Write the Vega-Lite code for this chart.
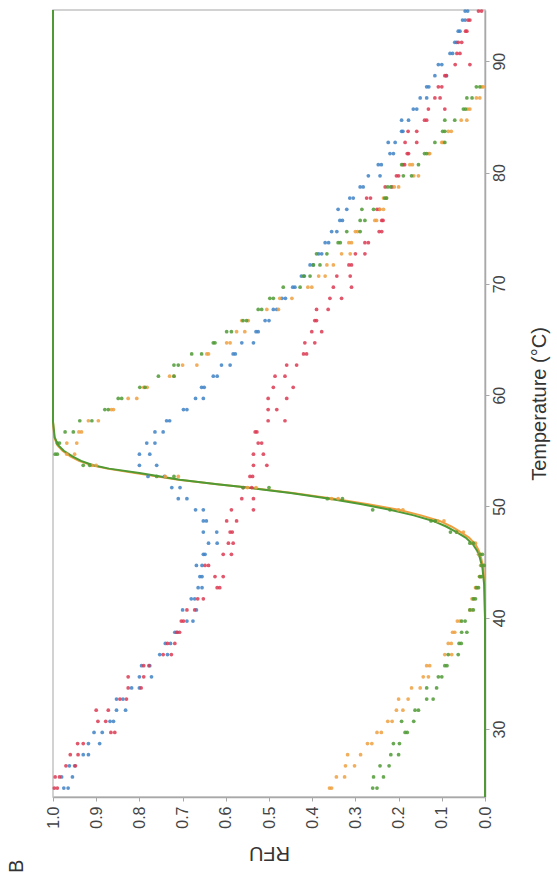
{
  "$schema": "https://vega.github.io/schema/vega-lite/v6.json",
  "width": 432,
  "height": 787,
  "autosize": {"type": "none"},
  "padding": {"left": 53, "top": 10, "right": 72, "bottom": 80},
  "background": "white",
  "title": {"text": "B", "orient": "bottom", "anchor": "start", "angle": 270, "align": "center", "baseline": "middle", "fontSize": 20, "fontWeight": "normal", "font": "Liberation Sans", "color": "#333333", "frame": "group", "dx": 0, "dy": -36},
  "config": {
    "view": {"stroke": "#c4c4c4", "strokeWidth": 1.5},
    "axis": {"labelFont": "Liberation Sans", "titleFont": "Liberation Sans", "labelColor": "#444444", "titleColor": "#333333", "domainColor": "#a8a8a8", "domainWidth": 1.5, "tickColor": "#a8a8a8", "grid": false, "titleFontWeight": "normal"}
  },
  "datasets": {
    "pts": [
      {"t":24.7,"s":"b","v":0.975},{"t":24.7,"s":"b","v":0.965},{"t":24.7,"s":"r","v":0.997},{"t":24.7,"s":"r","v":0.99},{"t":24.7,"s":"o","v":0.36},{"t":24.7,"s":"o","v":0.355},{"t":24.7,"s":"g","v":0.26},{"t":24.7,"s":"g","v":0.25},
      {"t":25.7,"s":"b","v":0.98},{"t":25.7,"s":"b","v":0.955},{"t":25.7,"s":"r","v":0.995},{"t":25.7,"s":"r","v":0.985},{"t":25.7,"s":"o","v":0.344},{"t":25.7,"s":"o","v":0.325},{"t":25.7,"s":"g","v":0.258},{"t":25.7,"s":"g","v":0.235},
      {"t":26.7,"s":"b","v":0.962},{"t":26.7,"s":"b","v":0.95},{"t":26.7,"s":"r","v":0.97},{"t":26.7,"s":"r","v":0.948},{"t":26.7,"s":"o","v":0.323},{"t":26.7,"s":"o","v":0.302},{"t":26.7,"s":"g","v":0.243},{"t":26.7,"s":"g","v":0.222},
      {"t":27.7,"s":"b","v":0.918},{"t":27.7,"s":"b","v":0.93},{"t":27.7,"s":"r","v":0.96},{"t":27.7,"s":"r","v":0.942},{"t":27.7,"s":"o","v":0.318},{"t":27.7,"s":"o","v":0.288},{"t":27.7,"s":"g","v":0.218},{"t":27.7,"s":"g","v":0.2},
      {"t":28.7,"s":"b","v":0.918},{"t":28.7,"s":"b","v":0.892},{"t":28.7,"s":"r","v":0.943},{"t":28.7,"s":"r","v":0.93},{"t":28.7,"s":"o","v":0.272},{"t":28.7,"s":"o","v":0.262},{"t":28.7,"s":"g","v":0.212},{"t":28.7,"s":"g","v":0.198},
      {"t":29.7,"s":"b","v":0.905},{"t":29.7,"s":"b","v":0.886},{"t":29.7,"s":"r","v":0.866},{"t":29.7,"s":"r","v":0.857},{"t":29.7,"s":"o","v":0.25},{"t":29.7,"s":"o","v":0.24},{"t":29.7,"s":"g","v":0.185},{"t":29.7,"s":"g","v":0.18},
      {"t":30.7,"s":"b","v":0.868},{"t":30.7,"s":"b","v":0.86},{"t":30.7,"s":"r","v":0.896},{"t":30.7,"s":"r","v":0.878},{"t":30.7,"s":"o","v":0.225},{"t":30.7,"s":"o","v":0.215},{"t":30.7,"s":"g","v":0.193},{"t":30.7,"s":"g","v":0.165},
      {"t":31.7,"s":"b","v":0.853},{"t":31.7,"s":"b","v":0.832},{"t":31.7,"s":"r","v":0.9},{"t":31.7,"s":"r","v":0.872},{"t":31.7,"s":"o","v":0.205},{"t":31.7,"s":"o","v":0.19},{"t":31.7,"s":"g","v":0.162},{"t":31.7,"s":"g","v":0.154},
      {"t":32.7,"s":"b","v":0.853},{"t":32.7,"s":"b","v":0.838},{"t":32.7,"s":"r","v":0.845},{"t":32.7,"s":"r","v":0.83},{"t":32.7,"s":"o","v":0.2},{"t":32.7,"s":"o","v":0.178},{"t":32.7,"s":"g","v":0.135},{"t":32.7,"s":"g","v":0.12},
      {"t":33.7,"s":"b","v":0.818},{"t":33.7,"s":"b","v":0.8},{"t":33.7,"s":"r","v":0.826},{"t":33.7,"s":"r","v":0.796},{"t":33.7,"s":"o","v":0.17},{"t":33.7,"s":"o","v":0.15},{"t":33.7,"s":"g","v":0.135},{"t":33.7,"s":"g","v":0.112},
      {"t":34.7,"s":"b","v":0.8},{"t":34.7,"s":"b","v":0.772},{"t":34.7,"s":"r","v":0.826},{"t":34.7,"s":"r","v":0.79},{"t":34.7,"s":"o","v":0.143},{"t":34.7,"s":"o","v":0.131},{"t":34.7,"s":"g","v":0.108},{"t":34.7,"s":"g","v":0.1},
      {"t":35.7,"s":"b","v":0.795},{"t":35.7,"s":"b","v":0.776},{"t":35.7,"s":"r","v":0.79},{"t":35.7,"s":"r","v":0.778},{"t":35.7,"s":"o","v":0.135},{"t":35.7,"s":"o","v":0.128},{"t":35.7,"s":"g","v":0.093},{"t":35.7,"s":"g","v":0.088},
      {"t":36.7,"s":"b","v":0.753},{"t":36.7,"s":"b","v":0.735},{"t":36.7,"s":"r","v":0.745},{"t":36.7,"s":"r","v":0.726},{"t":36.7,"s":"o","v":0.093},{"t":36.7,"s":"o","v":0.077},{"t":36.7,"s":"g","v":0.085},{"t":36.7,"s":"g","v":0.062},
      {"t":37.7,"s":"b","v":0.74},{"t":37.7,"s":"b","v":0.728},{"t":37.7,"s":"r","v":0.735},{"t":37.7,"s":"r","v":0.718},{"t":37.7,"s":"o","v":0.085},{"t":37.7,"s":"o","v":0.078},{"t":37.7,"s":"g","v":0.06},{"t":37.7,"s":"g","v":0.055},
      {"t":38.7,"s":"b","v":0.718},{"t":38.7,"s":"b","v":0.712},{"t":38.7,"s":"r","v":0.714},{"t":38.7,"s":"r","v":0.707},{"t":38.7,"s":"o","v":0.075},{"t":38.7,"s":"o","v":0.07},{"t":38.7,"s":"g","v":0.054},{"t":38.7,"s":"g","v":0.042},
      {"t":39.7,"s":"b","v":0.676},{"t":39.7,"s":"b","v":0.69},{"t":39.7,"s":"r","v":0.703},{"t":39.7,"s":"r","v":0.698},{"t":39.7,"s":"o","v":0.064},{"t":39.7,"s":"o","v":0.058},{"t":39.7,"s":"g","v":0.054},{"t":39.7,"s":"g","v":0.046},
      {"t":40.7,"s":"b","v":0.7},{"t":40.7,"s":"b","v":0.668},{"t":40.7,"s":"r","v":0.69},{"t":40.7,"s":"r","v":0.672},{"t":40.7,"s":"o","v":0.035},{"t":40.7,"s":"o","v":0.03},{"t":40.7,"s":"g","v":0.035},{"t":40.7,"s":"g","v":0.027},
      {"t":41.7,"s":"b","v":0.68},{"t":41.7,"s":"b","v":0.672},{"t":41.7,"s":"r","v":0.665},{"t":41.7,"s":"r","v":0.652},{"t":41.7,"s":"o","v":0.03},{"t":41.7,"s":"o","v":0.026},{"t":41.7,"s":"g","v":0.027},{"t":41.7,"s":"g","v":0.022},
      {"t":42.7,"s":"b","v":0.664},{"t":42.7,"s":"b","v":0.655},{"t":42.7,"s":"r","v":0.614},{"t":42.7,"s":"r","v":0.62},{"t":42.7,"s":"o","v":0.022},{"t":42.7,"s":"o","v":0.018},{"t":42.7,"s":"g","v":0.02},{"t":42.7,"s":"g","v":0.015},
      {"t":43.7,"s":"b","v":0.66},{"t":43.7,"s":"b","v":0.655},{"t":43.7,"s":"r","v":0.625},{"t":43.7,"s":"r","v":0.606},{"t":43.7,"s":"o","v":0.013},{"t":43.7,"s":"o","v":0.01},{"t":43.7,"s":"g","v":0.012},{"t":43.7,"s":"g","v":0.008},
      {"t":44.7,"s":"b","v":0.668},{"t":44.7,"s":"b","v":0.655},{"t":44.7,"s":"r","v":0.648},{"t":44.7,"s":"r","v":0.64},{"t":44.7,"s":"o","v":0.01},{"t":44.7,"s":"o","v":0.004},{"t":44.7,"s":"g","v":0.008},{"t":44.7,"s":"g","v":0.002},
      {"t":45.7,"s":"b","v":0.652},{"t":45.7,"s":"b","v":0.648},{"t":45.7,"s":"r","v":0.606},{"t":45.7,"s":"r","v":0.587},{"t":45.7,"s":"o","v":0.015},{"t":45.7,"s":"o","v":0.01},{"t":45.7,"s":"g","v":0.012},{"t":45.7,"s":"g","v":0.006},
      {"t":46.7,"s":"b","v":0.64},{"t":46.7,"s":"b","v":0.62},{"t":46.7,"s":"r","v":0.594},{"t":46.7,"s":"r","v":0.583},{"t":46.7,"s":"o","v":0.03},{"t":46.7,"s":"o","v":0.022},{"t":46.7,"s":"g","v":0.035},{"t":46.7,"s":"g","v":0.027},
      {"t":47.7,"s":"b","v":0.652},{"t":47.7,"s":"b","v":0.621},{"t":47.7,"s":"r","v":0.59},{"t":47.7,"s":"r","v":0.585},{"t":47.7,"s":"o","v":0.065},{"t":47.7,"s":"o","v":0.05},{"t":47.7,"s":"g","v":0.08},{"t":47.7,"s":"g","v":0.066},
      {"t":48.7,"s":"b","v":0.652},{"t":48.7,"s":"b","v":0.645},{"t":48.7,"s":"r","v":0.598},{"t":48.7,"s":"r","v":0.575},{"t":48.7,"s":"o","v":0.11},{"t":48.7,"s":"o","v":0.095},{"t":48.7,"s":"g","v":0.125},{"t":48.7,"s":"g","v":0.115},
      {"t":49.7,"s":"b","v":0.67},{"t":49.7,"s":"b","v":0.652},{"t":49.7,"s":"r","v":0.587},{"t":49.7,"s":"r","v":0.536},{"t":49.7,"s":"o","v":0.19},{"t":49.7,"s":"o","v":0.2},{"t":49.7,"s":"g","v":0.26},{"t":49.7,"s":"g","v":0.22},
      {"t":50.7,"s":"b","v":0.71},{"t":50.7,"s":"b","v":0.69},{"t":50.7,"s":"r","v":0.563},{"t":50.7,"s":"r","v":0.536},{"t":50.7,"s":"o","v":0.34},{"t":50.7,"s":"o","v":0.355},{"t":50.7,"s":"g","v":0.365},{"t":50.7,"s":"g","v":0.33},
      {"t":51.7,"s":"b","v":0.725},{"t":51.7,"s":"b","v":0.706},{"t":51.7,"s":"r","v":0.56},{"t":51.7,"s":"r","v":0.54},{"t":51.7,"s":"o","v":0.55},{"t":51.7,"s":"o","v":0.53},{"t":51.7,"s":"g","v":0.5},{"t":51.7,"s":"g","v":0.56},
      {"t":52.7,"s":"b","v":0.78},{"t":52.7,"s":"b","v":0.742},{"t":52.7,"s":"r","v":0.544},{"t":52.7,"s":"r","v":0.538},{"t":52.7,"s":"o","v":0.71},{"t":52.7,"s":"o","v":0.74},{"t":52.7,"s":"g","v":0.72},{"t":52.7,"s":"g","v":0.76},
      {"t":53.7,"s":"b","v":0.8},{"t":53.7,"s":"b","v":0.76},{"t":53.7,"s":"r","v":0.536},{"t":53.7,"s":"r","v":0.505},{"t":53.7,"s":"o","v":0.9},{"t":53.7,"s":"o","v":0.91},{"t":53.7,"s":"g","v":0.915},{"t":53.7,"s":"g","v":0.93},
      {"t":54.7,"s":"b","v":0.8},{"t":54.7,"s":"b","v":0.776},{"t":54.7,"s":"r","v":0.536},{"t":54.7,"s":"r","v":0.513},{"t":54.7,"s":"o","v":0.968},{"t":54.7,"s":"o","v":0.95},{"t":54.7,"s":"g","v":0.995},{"t":54.7,"s":"g","v":0.99},
      {"t":55.7,"s":"b","v":0.783},{"t":55.7,"s":"b","v":0.764},{"t":55.7,"s":"r","v":0.525},{"t":55.7,"s":"r","v":0.517},{"t":55.7,"s":"o","v":0.968},{"t":55.7,"s":"o","v":0.945},{"t":55.7,"s":"g","v":0.99},{"t":55.7,"s":"g","v":0.985},
      {"t":56.7,"s":"b","v":0.764},{"t":56.7,"s":"b","v":0.745},{"t":56.7,"s":"r","v":0.532},{"t":56.7,"s":"r","v":0.528},{"t":56.7,"s":"o","v":0.934},{"t":56.7,"s":"o","v":0.94},{"t":56.7,"s":"g","v":0.972},{"t":56.7,"s":"g","v":0.953},
      {"t":57.7,"s":"b","v":0.737},{"t":57.7,"s":"b","v":0.73},{"t":57.7,"s":"r","v":0.502},{"t":57.7,"s":"r","v":0.463},{"t":57.7,"s":"o","v":0.918},{"t":57.7,"s":"o","v":0.895},{"t":57.7,"s":"g","v":0.938},{"t":57.7,"s":"g","v":0.91},
      {"t":58.7,"s":"b","v":0.698},{"t":58.7,"s":"b","v":0.69},{"t":58.7,"s":"r","v":0.502},{"t":58.7,"s":"r","v":0.482},{"t":58.7,"s":"o","v":0.86},{"t":58.7,"s":"o","v":0.865},{"t":58.7,"s":"g","v":0.88},{"t":58.7,"s":"g","v":0.872},
      {"t":59.7,"s":"b","v":0.67},{"t":59.7,"s":"b","v":0.652},{"t":59.7,"s":"r","v":0.502},{"t":59.7,"s":"r","v":0.459},{"t":59.7,"s":"o","v":0.826},{"t":59.7,"s":"o","v":0.806},{"t":59.7,"s":"g","v":0.849},{"t":59.7,"s":"g","v":0.841},
      {"t":60.7,"s":"b","v":0.656},{"t":60.7,"s":"b","v":0.65},{"t":60.7,"s":"r","v":0.49},{"t":60.7,"s":"r","v":0.444},{"t":60.7,"s":"o","v":0.79},{"t":60.7,"s":"o","v":0.782},{"t":60.7,"s":"g","v":0.799},{"t":60.7,"s":"g","v":0.787},
      {"t":61.7,"s":"b","v":0.629},{"t":61.7,"s":"b","v":0.62},{"t":61.7,"s":"r","v":0.486},{"t":61.7,"s":"r","v":0.463},{"t":61.7,"s":"o","v":0.73},{"t":61.7,"s":"o","v":0.72},{"t":61.7,"s":"g","v":0.756},{"t":61.7,"s":"g","v":0.72},
      {"t":62.7,"s":"b","v":0.61},{"t":62.7,"s":"b","v":0.59},{"t":62.7,"s":"r","v":0.459},{"t":62.7,"s":"r","v":0.436},{"t":62.7,"s":"o","v":0.7},{"t":62.7,"s":"o","v":0.667},{"t":62.7,"s":"g","v":0.72},{"t":62.7,"s":"g","v":0.71},
      {"t":63.7,"s":"b","v":0.583},{"t":63.7,"s":"b","v":0.578},{"t":63.7,"s":"r","v":0.42},{"t":63.7,"s":"r","v":0.413},{"t":63.7,"s":"o","v":0.644},{"t":63.7,"s":"o","v":0.64},{"t":63.7,"s":"g","v":0.679},{"t":63.7,"s":"g","v":0.656},
      {"t":64.7,"s":"b","v":0.563},{"t":64.7,"s":"b","v":0.536},{"t":64.7,"s":"r","v":0.417},{"t":64.7,"s":"r","v":0.394},{"t":64.7,"s":"o","v":0.598},{"t":64.7,"s":"o","v":0.59},{"t":64.7,"s":"g","v":0.629},{"t":64.7,"s":"g","v":0.625},
      {"t":65.7,"s":"b","v":0.525},{"t":65.7,"s":"b","v":0.53},{"t":65.7,"s":"r","v":0.401},{"t":65.7,"s":"r","v":0.378},{"t":65.7,"s":"o","v":0.575},{"t":65.7,"s":"o","v":0.556},{"t":65.7,"s":"g","v":0.598},{"t":65.7,"s":"g","v":0.587},
      {"t":66.7,"s":"b","v":0.509},{"t":66.7,"s":"b","v":0.5},{"t":66.7,"s":"r","v":0.394},{"t":66.7,"s":"r","v":0.39},{"t":66.7,"s":"o","v":0.563},{"t":66.7,"s":"o","v":0.548},{"t":66.7,"s":"g","v":0.56},{"t":66.7,"s":"g","v":0.552},
      {"t":67.7,"s":"b","v":0.49},{"t":67.7,"s":"b","v":0.482},{"t":67.7,"s":"r","v":0.39},{"t":67.7,"s":"r","v":0.363},{"t":67.7,"s":"o","v":0.505},{"t":67.7,"s":"o","v":0.478},{"t":67.7,"s":"g","v":0.525},{"t":67.7,"s":"g","v":0.517},
      {"t":68.7,"s":"b","v":0.47},{"t":68.7,"s":"b","v":0.462},{"t":68.7,"s":"r","v":0.359},{"t":68.7,"s":"r","v":0.332},{"t":68.7,"s":"o","v":0.475},{"t":68.7,"s":"o","v":0.447},{"t":68.7,"s":"g","v":0.498},{"t":68.7,"s":"g","v":0.49},
      {"t":69.7,"s":"b","v":0.445},{"t":69.7,"s":"b","v":0.44},{"t":69.7,"s":"r","v":0.351},{"t":69.7,"s":"r","v":0.309},{"t":69.7,"s":"o","v":0.401},{"t":69.7,"s":"o","v":0.41},{"t":69.7,"s":"g","v":0.467},{"t":69.7,"s":"g","v":0.428},
      {"t":70.7,"s":"b","v":0.425},{"t":70.7,"s":"b","v":0.418},{"t":70.7,"s":"r","v":0.343},{"t":70.7,"s":"r","v":0.312},{"t":70.7,"s":"o","v":0.37},{"t":70.7,"s":"o","v":0.385},{"t":70.7,"s":"g","v":0.42},{"t":70.7,"s":"g","v":0.405},
      {"t":71.7,"s":"b","v":0.405},{"t":71.7,"s":"b","v":0.398},{"t":71.7,"s":"r","v":0.309},{"t":71.7,"s":"r","v":0.315},{"t":71.7,"s":"o","v":0.366},{"t":71.7,"s":"o","v":0.351},{"t":71.7,"s":"g","v":0.397},{"t":71.7,"s":"g","v":0.382},
      {"t":72.7,"s":"b","v":0.385},{"t":72.7,"s":"b","v":0.378},{"t":72.7,"s":"r","v":0.3},{"t":72.7,"s":"r","v":0.278},{"t":72.7,"s":"o","v":0.332},{"t":72.7,"s":"o","v":0.312},{"t":72.7,"s":"g","v":0.39},{"t":72.7,"s":"g","v":0.366},
      {"t":73.7,"s":"b","v":0.37},{"t":73.7,"s":"b","v":0.362},{"t":73.7,"s":"r","v":0.278},{"t":73.7,"s":"r","v":0.27},{"t":73.7,"s":"o","v":0.309},{"t":73.7,"s":"o","v":0.315},{"t":73.7,"s":"g","v":0.34},{"t":73.7,"s":"g","v":0.335},
      {"t":74.7,"s":"b","v":0.355},{"t":74.7,"s":"b","v":0.343},{"t":74.7,"s":"r","v":0.239},{"t":74.7,"s":"r","v":0.245},{"t":74.7,"s":"o","v":0.3},{"t":74.7,"s":"o","v":0.295},{"t":74.7,"s":"g","v":0.32},{"t":74.7,"s":"g","v":0.289},
      {"t":75.7,"s":"b","v":0.336},{"t":75.7,"s":"b","v":0.33},{"t":75.7,"s":"r","v":0.239},{"t":75.7,"s":"r","v":0.236},{"t":75.7,"s":"o","v":0.251},{"t":75.7,"s":"o","v":0.255},{"t":75.7,"s":"g","v":0.289},{"t":75.7,"s":"g","v":0.278},
      {"t":76.7,"s":"b","v":0.34},{"t":76.7,"s":"b","v":0.32},{"t":76.7,"s":"r","v":0.25},{"t":76.7,"s":"r","v":0.245},{"t":76.7,"s":"o","v":0.243},{"t":76.7,"s":"o","v":0.235},{"t":76.7,"s":"g","v":0.285},{"t":76.7,"s":"g","v":0.258},
      {"t":77.7,"s":"b","v":0.313},{"t":77.7,"s":"b","v":0.305},{"t":77.7,"s":"r","v":0.274},{"t":77.7,"s":"r","v":0.265},{"t":77.7,"s":"o","v":0.235},{"t":77.7,"s":"o","v":0.228},{"t":77.7,"s":"g","v":0.232},{"t":77.7,"s":"g","v":0.228},
      {"t":78.7,"s":"b","v":0.289},{"t":78.7,"s":"b","v":0.282},{"t":78.7,"s":"r","v":0.231},{"t":78.7,"s":"r","v":0.215},{"t":78.7,"s":"o","v":0.2},{"t":78.7,"s":"o","v":0.21},{"t":78.7,"s":"g","v":0.225},{"t":78.7,"s":"g","v":0.218},
      {"t":79.7,"s":"b","v":0.27},{"t":79.7,"s":"b","v":0.243},{"t":79.7,"s":"r","v":0.2},{"t":79.7,"s":"r","v":0.205},{"t":79.7,"s":"o","v":0.154},{"t":79.7,"s":"o","v":0.165},{"t":79.7,"s":"g","v":0.189},{"t":79.7,"s":"g","v":0.17},
      {"t":80.7,"s":"b","v":0.247},{"t":80.7,"s":"b","v":0.24},{"t":80.7,"s":"r","v":0.19},{"t":80.7,"s":"r","v":0.186},{"t":80.7,"s":"o","v":0.174},{"t":80.7,"s":"o","v":0.168},{"t":80.7,"s":"g","v":0.193},{"t":80.7,"s":"g","v":0.154},
      {"t":81.7,"s":"b","v":0.22},{"t":81.7,"s":"b","v":0.212},{"t":81.7,"s":"r","v":0.177},{"t":81.7,"s":"r","v":0.18},{"t":81.7,"s":"o","v":0.13},{"t":81.7,"s":"o","v":0.128},{"t":81.7,"s":"g","v":0.135},{"t":81.7,"s":"g","v":0.14},
      {"t":82.7,"s":"b","v":0.224},{"t":82.7,"s":"b","v":0.208},{"t":82.7,"s":"r","v":0.185},{"t":82.7,"s":"r","v":0.158},{"t":82.7,"s":"o","v":0.1},{"t":82.7,"s":"o","v":0.097},{"t":82.7,"s":"g","v":0.116},{"t":82.7,"s":"g","v":0.093},
      {"t":83.7,"s":"b","v":0.193},{"t":83.7,"s":"b","v":0.19},{"t":83.7,"s":"r","v":0.178},{"t":83.7,"s":"r","v":0.158},{"t":83.7,"s":"o","v":0.085},{"t":83.7,"s":"o","v":0.078},{"t":83.7,"s":"g","v":0.093},{"t":83.7,"s":"g","v":0.098},
      {"t":84.7,"s":"b","v":0.193},{"t":84.7,"s":"b","v":0.177},{"t":84.7,"s":"r","v":0.135},{"t":84.7,"s":"r","v":0.14},{"t":84.7,"s":"o","v":0.042},{"t":84.7,"s":"o","v":0.055},{"t":84.7,"s":"g","v":0.093},{"t":84.7,"s":"g","v":0.07},
      {"t":85.7,"s":"b","v":0.166},{"t":85.7,"s":"b","v":0.158},{"t":85.7,"s":"r","v":0.131},{"t":85.7,"s":"r","v":0.093},{"t":85.7,"s":"o","v":0.035},{"t":85.7,"s":"o","v":0.04},{"t":85.7,"s":"g","v":0.05},{"t":85.7,"s":"g","v":0.045},
      {"t":86.7,"s":"b","v":0.15},{"t":86.7,"s":"b","v":0.135},{"t":86.7,"s":"r","v":0.116},{"t":86.7,"s":"r","v":0.104},{"t":86.7,"s":"o","v":0.012},{"t":86.7,"s":"o","v":0.02},{"t":86.7,"s":"g","v":0.042},{"t":86.7,"s":"g","v":0.03},
      {"t":87.7,"s":"b","v":0.135},{"t":87.7,"s":"b","v":0.13},{"t":87.7,"s":"r","v":0.108},{"t":87.7,"s":"r","v":0.1},{"t":87.7,"s":"o","v":0.004},{"t":87.7,"s":"o","v":0.008},{"t":87.7,"s":"g","v":0.02},{"t":87.7,"s":"g","v":0.012},
      {"t":88.7,"s":"b","v":0.116},{"t":88.7,"s":"b","v":0.089},{"t":88.7,"s":"r","v":0.093},{"t":88.7,"s":"r","v":0.09},
      {"t":89.7,"s":"b","v":0.108},{"t":89.7,"s":"b","v":0.1},{"t":89.7,"s":"r","v":0.069},{"t":89.7,"s":"r","v":0.035},
      {"t":90.7,"s":"b","v":0.081},{"t":90.7,"s":"b","v":0.075},{"t":90.7,"s":"r","v":0.058},{"t":90.7,"s":"r","v":0.065},
      {"t":91.7,"s":"b","v":0.066},{"t":91.7,"s":"b","v":0.07},{"t":91.7,"s":"r","v":0.062},{"t":91.7,"s":"r","v":0.054},
      {"t":92.7,"s":"b","v":0.062},{"t":92.7,"s":"b","v":0.058},{"t":92.7,"s":"r","v":0.042},{"t":92.7,"s":"r","v":0.045},
      {"t":93.7,"s":"b","v":0.046},{"t":93.7,"s":"b","v":0.052},{"t":93.7,"s":"r","v":0.039},{"t":93.7,"s":"r","v":0.035},
      {"t":94.5,"s":"b","v":0.046},{"t":94.5,"s":"b","v":0.04},{"t":94.5,"s":"r","v":0.008},{"t":94.5,"s":"r","v":0.015}
    ],
    "fit": [
      {"t":23.9,"s":"o","v":0.0},{"t":40,"s":"o","v":0.0},{"t":43,"s":"o","v":0.001},{"t":44.5,"s":"o","v":0.004},{"t":45.4,"s":"o","v":0.009},{"t":46.0,"s":"o","v":0.014},{"t":46.6,"s":"o","v":0.022},{"t":47.2,"s":"o","v":0.037},{"t":47.7,"s":"o","v":0.056},{"t":48.2,"s":"o","v":0.078},{"t":48.7,"s":"o","v":0.105},{"t":49.2,"s":"o","v":0.148},{"t":49.7,"s":"o","v":0.2},{"t":50.2,"s":"o","v":0.27},{"t":50.7,"s":"o","v":0.35},{"t":51.2,"s":"o","v":0.445},{"t":51.7,"s":"o","v":0.55},{"t":52.0,"s":"o","v":0.62},{"t":52.4,"s":"o","v":0.71},{"t":53.0,"s":"o","v":0.81},{"t":53.4,"s":"o","v":0.875},{"t":53.7,"s":"o","v":0.91},{"t":54.1,"s":"o","v":0.94},{"t":54.5,"s":"o","v":0.96},{"t":55.0,"s":"o","v":0.978},{"t":55.5,"s":"o","v":0.99},{"t":56.2,"s":"o","v":0.997},{"t":57.6,"s":"o","v":1.0},{"t":94.6,"s":"o","v":1.0},
      {"t":23.9,"s":"g","v":0.0},{"t":40,"s":"g","v":0.0},{"t":43,"s":"g","v":0.002},{"t":44.5,"s":"g","v":0.006},{"t":45.4,"s":"g","v":0.012},{"t":46.0,"s":"g","v":0.018},{"t":46.6,"s":"g","v":0.028},{"t":47.2,"s":"g","v":0.045},{"t":47.7,"s":"g","v":0.066},{"t":48.2,"s":"g","v":0.09},{"t":48.7,"s":"g","v":0.12},{"t":49.2,"s":"g","v":0.165},{"t":49.7,"s":"g","v":0.22},{"t":50.2,"s":"g","v":0.285},{"t":50.7,"s":"g","v":0.36},{"t":51.2,"s":"g","v":0.45},{"t":51.7,"s":"g","v":0.55},{"t":52.0,"s":"g","v":0.62},{"t":52.4,"s":"g","v":0.706},{"t":53.0,"s":"g","v":0.8},{"t":53.4,"s":"g","v":0.87},{"t":53.7,"s":"g","v":0.907},{"t":54.1,"s":"g","v":0.935},{"t":54.5,"s":"g","v":0.955},{"t":55.0,"s":"g","v":0.975},{"t":55.5,"s":"g","v":0.988},{"t":56.2,"s":"g","v":0.996},{"t":57.6,"s":"g","v":1.0},{"t":94.6,"s":"g","v":1.0}
    ]
  },
  "encoding": {
    "x": {"field": "v", "type": "quantitative",
      "scale": {"domain": [0, 1], "reverse": true, "nice": false, "zero": false},
      "axis": {"values": [0, 0.1, 0.2, 0.3, 0.4, 0.5, 0.6, 0.7, 0.8, 0.9, 1.0], "format": ".1f", "labelAngle": 270, "labelAlign": "right", "labelBaseline": "middle", "labelFontSize": 16, "tickSize": 4, "labelPadding": 5, "title": "RFU", "titleAngle": 180, "titleBaseline": "bottom", "titleFontSize": 20, "titlePadding": 14}},
    "y": {"field": "t", "type": "quantitative",
      "scale": {"domain": [23.9, 94.6], "nice": false, "zero": false},
      "axis": {"orient": "right", "values": [30, 40, 50, 60, 70, 80, 90], "labelAngle": 270, "labelAlign": "center", "labelBaseline": "top", "labelFontSize": 16, "tickSize": 4, "labelPadding": 2, "title": "Temperature (°C)", "titleAngle": 270, "titleBaseline": "top", "titleFontSize": 20, "titlePadding": 22}}
  },
  "layer": [
    {
      "data": {"name": "fit"},
      "mark": {"type": "line", "strokeWidth": 2},
      "encoding": {
        "order": {"field": "t", "type": "quantitative"},
        "color": {"field": "s", "type": "nominal", "scale": {"domain": ["b", "r", "o", "g"], "range": ["#3f82c6", "#dc3a52", "#eea040", "#4f9a35"]}, "legend": null}
      }
    },
    {
      "data": {"name": "pts"},
      "mark": {"type": "circle", "size": 14, "opacity": 0.85},
      "encoding": {
        "color": {"field": "s", "type": "nominal", "scale": {"domain": ["b", "r", "o", "g"], "range": ["#3f82c6", "#dc3a52", "#eea040", "#4f9a35"]}, "legend": null}
      }
    }
  ]
}
